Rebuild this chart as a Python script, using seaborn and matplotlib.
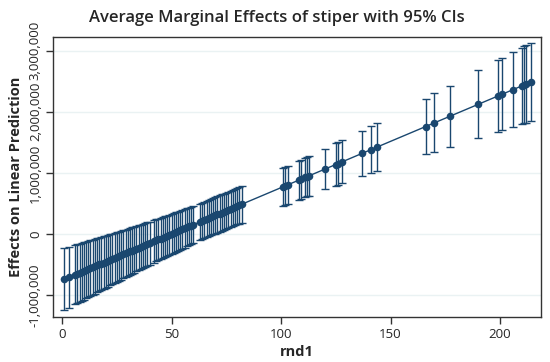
import matplotlib
matplotlib.use("Agg")
import matplotlib.pyplot as plt
import seaborn as sns
import numpy as np
import pandas as pd

# rnd1 values (x positions of the points)
rnd1 = [1, 3, 6, 7, 8, 9, 10, 11, 12, 13, 14, 15, 16, 17, 18, 19, 20, 21, 22, 23,
        24, 25, 26, 27, 28, 29, 30, 31, 32, 33, 34, 35, 36, 37, 38, 39, 40,
        42, 43, 44, 45, 46, 47, 48, 49, 50, 51, 52, 53, 54, 55, 56, 57, 58, 59, 60,
        63, 64, 65, 66, 67, 68, 69, 70, 71, 72, 73, 74, 75, 76, 77, 78, 79, 80, 81, 82,
        101, 102, 103, 108, 109, 111, 112, 113, 120, 125, 126, 128, 137, 141, 144,
        166, 170, 177, 190, 199, 201, 206, 210, 211, 212, 214]

# Average marginal effect (thousands)
effect_k = [-742, -712, -666, -651, -636, -621, -606, -590, -575, -560, -545, -530, -515, -499,
            -484, -469, -454, -439, -424, -409, -393, -378, -363, -348, -333, -318, -303,
            -287, -272, -257, -242, -227, -212, -196, -181, -166, -151,
            -121, -106, -90, -75, -60, -45, -30, -15, 1, 16, 31, 46, 61, 76, 91, 107, 122, 137, 152,
            197, 213, 228, 243, 258, 273, 288, 304, 319, 334, 349, 364, 379, 394, 410, 425,
            440, 455, 470, 485,
            773, 788, 803, 879, 894, 925, 940, 955, 1061, 1137, 1152, 1182, 1319, 1379, 1425,
            1758, 1819, 1925, 2122, 2258, 2288, 2364, 2425, 2440, 2455, 2485]

# Half-width of the 95% CI (thousands)
ci_half_k = [505, 497, 485, 481, 477, 472, 468, 464, 459, 455, 451, 447, 443, 438, 434, 430,
             426, 422, 418, 414, 410, 406, 402, 398, 394, 390, 386, 382, 379, 375, 372, 369,
             366, 363, 360, 357, 354,
             348, 345, 342, 339, 336, 333, 330, 328, 325, 323, 321, 319, 317, 315, 313, 311,
             309, 307, 305,
             301, 300, 299, 298, 298, 297, 297, 297, 297, 297, 297, 297, 298, 298, 299, 299,
             300, 300, 301, 302,
             311, 312, 314, 317, 319, 322, 324, 326, 333, 345, 347, 350, 372, 382, 393,
             456, 481, 505, 557, 585, 592, 612, 626, 630, 634, 642]

yticks = [-1000000, 0, 1000000, 2000000, 3000000]
ytick_labels = ["-1,000,000", "0", "1,000,000", "2,000,000", "3,000,000"]
xticks = [0, 50, 100, 150, 200]

df = pd.DataFrame({
    "rnd1": rnd1,
    "effect": np.array(effect_k) * 1000.0,
    "lo": (np.array(effect_k) - np.array(ci_half_k)) * 1000.0,
    "hi": (np.array(effect_k) + np.array(ci_half_k)) * 1000.0,
})

sns.set_theme(style="white")
plt.rcParams["font.family"] = ["Open Sans", "DejaVu Sans"]

navy = "#1a476f"
fig = plt.figure(figsize=(5.5, 3.62), dpi=100)
ax = fig.add_axes([0.0964, 0.1243, 0.8872, 0.7735])

for y in yticks:
    ax.axhline(y, color="#eaf2f3", lw=1.0, zorder=0)

ax.errorbar(df["rnd1"], df["effect"],
            yerr=[df["effect"] - df["lo"], df["hi"] - df["effect"]],
            fmt="none", ecolor=navy, elinewidth=1.0, capsize=3, capthick=1.0, zorder=2)
sns.lineplot(data=df, x="rnd1", y="effect", ax=ax, color=navy, lw=1.0, zorder=3,
             estimator=None, sort=True)
sns.scatterplot(data=df, x="rnd1", y="effect", ax=ax, color=navy, s=30,
                edgecolor=navy, linewidth=0, zorder=4)

ax.set_xlim(-4.1, 218.7)
ax.set_ylim(-1360000, 3225000)
ax.set_xticks(xticks)
ax.set_xticklabels([str(t) for t in xticks], fontsize=9.5)
ax.set_yticks(yticks)
ax.set_yticklabels(ytick_labels, fontsize=9.5, rotation=90, va="center")

for s in ax.spines.values():
    s.set_color("#333333")
    s.set_linewidth(1.0)
ax.tick_params(axis="both", which="both", direction="out", length=5, width=1,
               color="#333333", bottom=True, left=True, pad=3)

ax.set_xlabel("rnd1", fontsize=10.5, fontweight="bold", labelpad=3)
ax.set_ylabel("Effects on Linear Prediction", fontsize=10.5, fontweight="bold", labelpad=4)
fig.text(0.503, 0.95, "Average Marginal Effects of stiper with 95% CIs",
         ha="center", va="center", fontsize=12, fontweight="semibold")

fig.savefig("out.png", dpi=100)
